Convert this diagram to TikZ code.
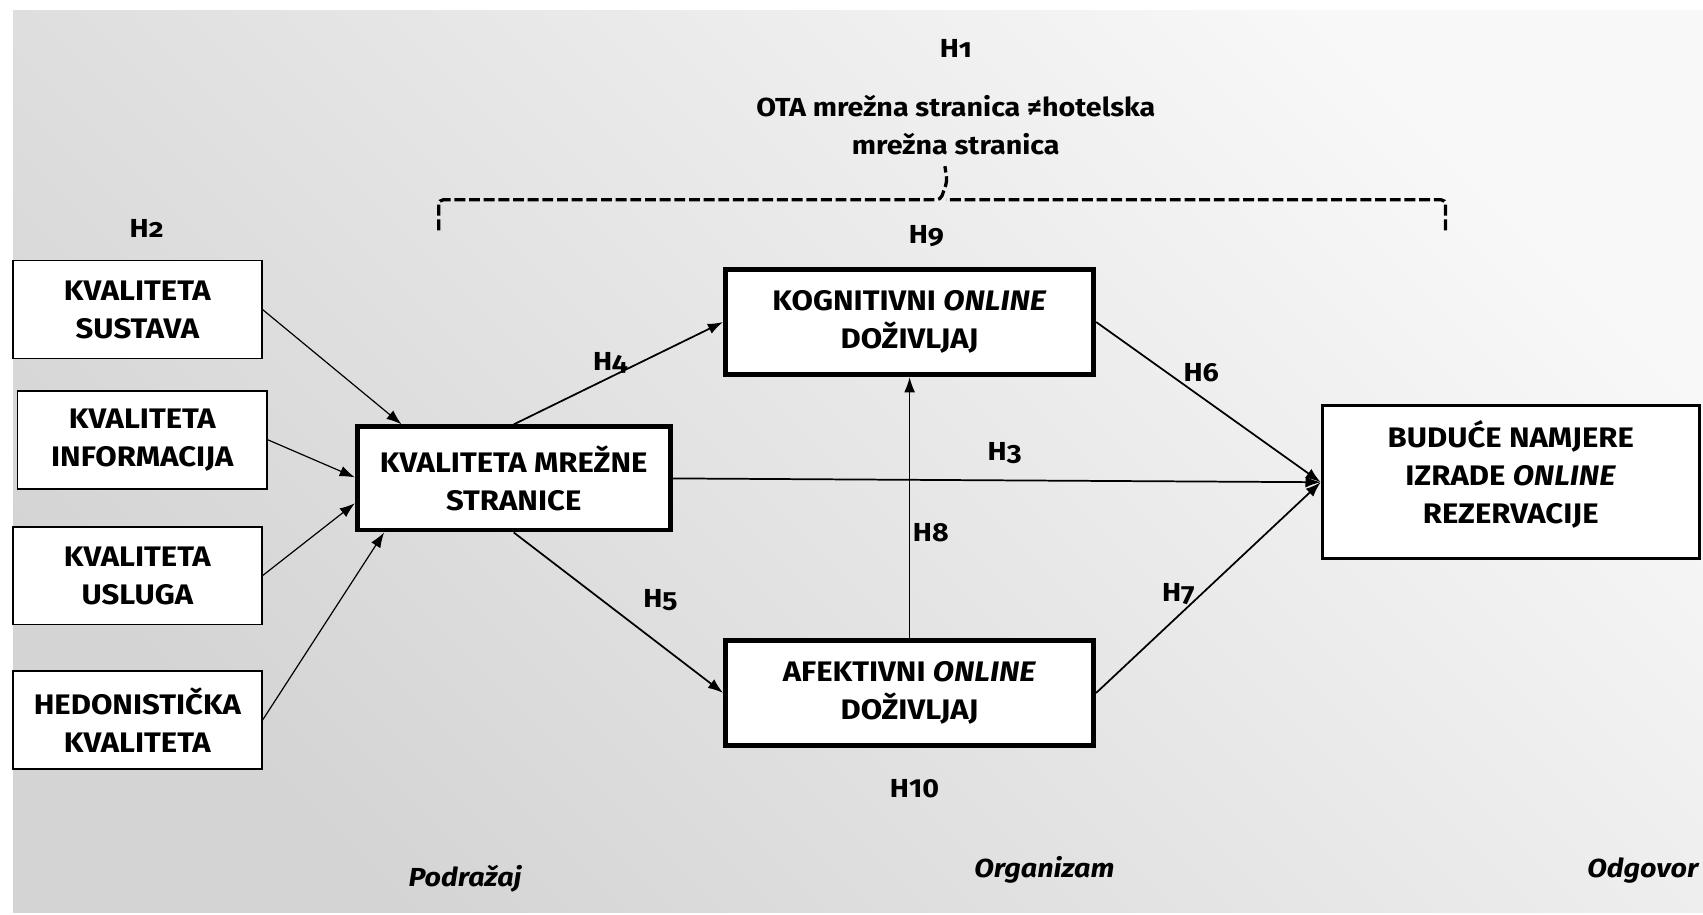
\documentclass[tikz,border=0pt]{standalone}
\usepackage{fontspec}
\setmainfont{Fira Sans}[Numbers=OldStyle, FakeStretch=1.1]
\usetikzlibrary{arrows.meta,calc}
\definecolor{bgL}{HTML}{F8F8F8}
\definecolor{bgD}{HTML}{D4D4D4}
\begin{document}
\begin{tikzpicture}[x=1pt,y=-1pt,
  font=\bfseries\fontsize{24}{35}\selectfont,
  box/.style={draw=black, fill=white, line width=1.5pt, align=center, inner sep=0pt,
    font=\bfseries\fontsize{26}{35}\selectfont},
  thickbox/.style={box, line width=4.5pt},
  midbox/.style={box, line width=3pt},
  arr/.style={-{Latex[length=14pt,width=10pt]}, line width=1.1pt},
  arrb/.style={-{Latex[length=14pt,width=10pt]}, line width=1.6pt},
  lab/.style={anchor=base, inner sep=0pt},
  brace/.style={line width=3pt, dash pattern=on 10pt off 3.5pt}]
\useasboundingbox (0,0) rectangle (1568,842);
\fill[white] (0,0) rectangle (1568,842);
\shade[top color=bgL, bottom color=bgD, shading angle=-45] (12,10) rectangle (1568,840);

% boxes
\node[box, minimum width=229pt, minimum height=90pt] (sus) at (126.5,285) {KVALITETA\\SUSTAVA};
\node[box, minimum width=230pt, minimum height=90pt] (inf) at (131,405) {KVALITETA\\INFORMACIJA};
\node[box, minimum width=229pt, minimum height=90pt] (usl) at (126.5,530) {KVALITETA\\USLUGA};
\node[box, minimum width=229pt, minimum height=90pt] (hed) at (126.5,663) {HEDONISTIČKA\\KVALITETA};
\node[thickbox, minimum width=288pt, minimum height=95pt] (mre) at (473,440.5) {KVALITETA MREŽNE\\STRANICE};
\node[thickbox, minimum width=339pt, minimum height=97pt] (kog) at (837.5,296.5) {KOGNITIVNI \textit{ONLINE}\\DOŽIVLJAJ};
\node[thickbox, minimum width=339pt, minimum height=96pt] (afe) at (837.5,638) {AFEKTIVNI \textit{ONLINE}\\DOŽIVLJAJ};
\node[midbox, minimum width=347pt, minimum height=141pt, text depth=18pt] (bud) at (1391,444) {BUDUĆE NAMJERE\\IZRADE \textit{ONLINE}\\REZERVACIJE};

% connectors
\draw[arr] (sus.east) -- ($(mre.north west)!0.147!(mre.north east)$);
\draw[arr] (inf.east) -- ($(mre.north west)!0.49!(mre.south west)$);
\draw[arr] (usl.east) -- ($(mre.north west)!0.73!(mre.south west)$);
\draw[arr] (hed.east) -- ($(mre.south west)!0.092!(mre.south east)$);
\draw[arrb] (mre.north) -- (kog.west);
\draw[arrb] (mre.south) -- (afe.west);
\draw[arrb] (mre.east) -- (bud.west);
\draw[arrb] (kog.east) -- (bud.west);
\draw[arrb] (afe.east) -- (bud.west);
\draw[arr] (afe.north) -- (kog.south);

% bracket
\coordinate (bl) at (404,212);
\coordinate (br) at (1331,212);
\coordinate (tip) at (870,153);
\draw[brace, rounded corners=4pt] (bl) -- (404,184) -- (866,184) -- (872,167) -- (tip);
\draw[brace, rounded corners=4pt] (br) -- (1331,184) -- (871,184);

% labels
\node[lab] (h1) at (880,53) {H1};
\node[align=center, inner sep=0pt] (ota) at (880,115) {OTA mrežna stranica ≠hotelska\\mrežna stranica};
\node[lab] (h2) at (135,219) {H2};
\node[lab] (h9) at (853,224) {H9};
\node[lab] (h4) at (562,341) {H4};
\node[lab] (h6) at (1106,351) {H6};
\node[lab] (h3) at (925,424) {H3};
\node[lab] (h8) at (857,499) {H8};
\node[lab] (h5) at (608,559) {H5};
\node[lab] (h7) at (1085,554) {H7};
\node[lab] (h10) at (842,734) {\addfontfeature{Numbers=Lining}H10};
\node[anchor=base west, inner sep=0pt] (pod) at (376,816) {\textit{Podražaj}};
\node[anchor=base west, inner sep=0pt] (org) at (897,808) {\textit{Organizam}};
\node[anchor=base east, inner sep=0pt] (odg) at (1565,808) {\textit{Odgovor}};
\end{tikzpicture}
\end{document}
